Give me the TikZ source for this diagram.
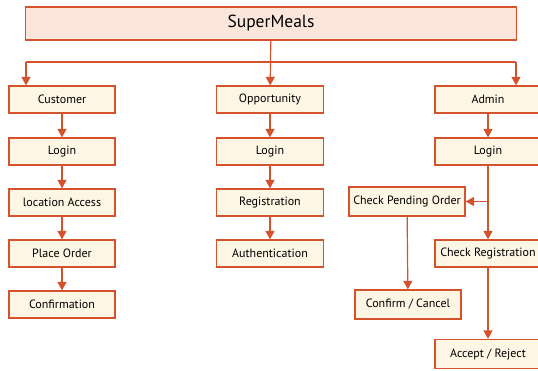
\documentclass[tikz,border=0pt]{standalone}
\usepackage{fontspec}
\setmainfont{PT Sans}
\usetikzlibrary{arrows.meta}
\definecolor{edgeRed}{HTML}{D4532D}
\definecolor{boxCream}{HTML}{FDF6E4}
\definecolor{boxPeach}{HTML}{FCE5DA}

\begin{document}
\begin{tikzpicture}[x=1pt, y=-1pt]
    \tikzset{box/.style = {shape=rectangle, draw=edgeRed, fill=boxCream, line width=1.2pt,
        minimum width=106pt, minimum height=27pt, inner sep=2pt, font=\fontsize{12}{14}\selectfont}}
    \tikzset{title/.style = {box, fill=boxPeach, minimum width=491pt, minimum height=33pt,
        font=\fontsize{17.5}{20}\selectfont}}
    \tikzset{flow/.style = {draw=edgeRed, line width=1.2pt, -{Triangle[width=9pt,length=8.5pt]}}}
    \tikzset{link/.style = {draw=edgeRed, line width=1.2pt, -}}
    \useasboundingbox (0,0) rectangle (538,370);

    % title
    \node[title] (top) at (271,23.5) {SuperMeals};

    % customer column
    \node[box] (cust) at (62,99.5) {Customer};
    \node[box] (clogin) at (62,151.5) {Login};
    \node[box] (cloc) at (62,202.5) {location Access};
    \node[box] (corder) at (62,253.5) {Place Order};
    \node[box] (cconf) at (62,304.5) {Confirmation};

    % opportunity column
    \node[box, minimum width=107pt] (opp) at (270,99.5) {Opportunity};
    \node[box, minimum width=107pt] (ologin) at (270,151.5) {Login};
    \node[box, minimum width=107pt] (oreg) at (270,202.5) {Registration};
    \node[box, minimum width=107pt] (oauth) at (270,253.5) {Authentication};

    % admin column
    \node[box] (admin) at (488,99.5) {Admin};
    \node[box] (alogin) at (488,151.5) {Login};
    \node[box, minimum width=116pt, minimum height=29pt] (apend) at (407,201.5) {Check Pending Order};
    \node[box] (areg) at (488,253.5) {Check Registration};
    \node[box, minimum height=29pt] (aconf) at (408,304.5) {Confirm / Cancel};
    \node[box, minimum height=29pt] (aacc) at (488,354) {Accept / Reject};

    % bus
    \coordinate (busL) at (26,62);
    \coordinate (busR) at (516,62);
    \coordinate (split) at (alogin.south |- apend.east);
    \draw[flow] (top) -- (opp);
    \draw[link] (busL) -- (busR);
    \draw[flow] (busL) -- (busL |- cust.north);
    \draw[flow] (busR) -- (busR |- admin.north);

    % edges
    \draw[flow] (cust) -- (clogin);
    \draw[flow] (clogin) -- (cloc);
    \draw[flow] (cloc) -- (corder);
    \draw[flow] (corder) -- (cconf);
    \draw[flow] (opp) -- (ologin);
    \draw[flow] (ologin) -- (oreg);
    \draw[flow] (oreg) -- (oauth);
    \draw[flow] (admin) -- (alogin);
    \draw[flow] (alogin) -- (areg);
    \draw[flow] (split) -- (apend);
    \draw[flow] (apend) -- (aconf);
    \draw[flow] (areg) -- (aacc);
\end{tikzpicture}
\end{document}
